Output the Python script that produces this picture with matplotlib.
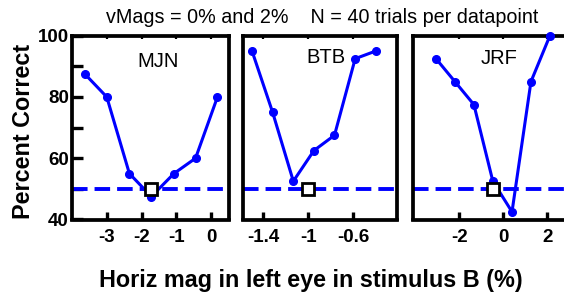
import matplotlib
matplotlib.use("Agg")
import matplotlib.pyplot as plt

plt.rcParams['font.family'] = ['Liberation Sans', 'DejaVu Sans']

# ---- data ----
subjects = ["MJN", "BTB", "JRF"]
x_mjn = [-3.63, -3.0, -2.35, -1.72, -1.07, -0.45, 0.18]
y_mjn = [87.5, 80.0, 55.0, 47.5, 55.0, 60.0, 80.0]
x_btb = [-1.50, -1.317, -1.133, -0.95, -0.767, -0.583, -0.40]
y_btb = [95.0, 75.0, 52.5, 62.5, 67.5, 92.5, 95.0]
x_jrf = [-3.05, -2.19, -1.33, -0.47, 0.40, 1.26, 2.12]
y_jrf = [92.5, 85.0, 77.5, 52.5, 42.5, 85.0, 100.0]
pse_x = [-1.72, -1.0, -0.45]
pse_y = [50.0, 50.0, 50.0]
chance = 50
xticks = [[-3, -2, -1, 0], [-1.4, -1.0, -0.6], [-2, 0, 2]]
xticklabels = [["-3", "-2", "-1", "0"], ["-1.4", "-1", "-0.6"], ["-2", "0", "2"]]
xlims = [(-3.99, 0.52), (-1.583, -0.214), (-4.08, 3.0)]
yticks_major = [40, 60, 80, 100]
yticks_all = [40, 50, 60, 70, 80, 90, 100]

xs = [x_mjn, x_btb, x_jrf]
ys = [y_mjn, y_btb, y_jrf]

W, H = 564, 293
fig = plt.figure(figsize=(W / 100, H / 100), dpi=100)

panels_px = [(72.3, 157.0), (242.7, 154.0), (413.3, 156.0)]
top_px, bot_px = 35.7, 219.5
name_pos = [(0.549, 0.859), (0.541, 0.881), (0.549, 0.877)]

blue = (0, 0, 1)
for i in range(3):
    l, w = panels_px[i]
    ax = fig.add_axes([l / W, (H - bot_px) / H, w / W, (bot_px - top_px) / H])
    ax.axhline(chance, color=blue, lw=2.8, dashes=(4.0, 1.8), zorder=2)
    ax.plot(xs[i], ys[i], '-o', color=blue, lw=2.2, ms=5.5, zorder=3, clip_on=False)
    ax.plot(pse_x[i], pse_y[i], 's', mfc='white', mec='black', mew=2.0, ms=8,
            zorder=4, clip_on=False)
    ax.set_xlim(*xlims[i])
    ax.set_ylim(40, 100)
    for s in ax.spines.values():
        s.set_linewidth(2.7)
    ax.set_xticks(xticks[i])
    ax.set_xticklabels(xticklabels[i], fontsize=13.5, fontweight='bold')
    ax.tick_params(axis='x', direction='in', length=5.5, width=2.4, pad=7, bottom=True, top=False)
    sec = ax.secondary_xaxis('top')
    sec.set_xticks(xticks[i])
    sec.set_xticklabels([])
    sec.tick_params(direction='in', length=2, width=1.6)
    sec.spines['top'].set_visible(False)
    if i == 0:
        ax.set_yticks(yticks_all)
        ax.set_yticklabels([str(v) if v in yticks_major else "" for v in yticks_all],
                           fontsize=13.5, fontweight='bold')
        ax.tick_params(axis='y', direction='in', length=8, width=2.4, pad=2.5)
    else:
        ax.set_yticks([])
    ax.text(name_pos[i][0], name_pos[i][1], subjects[i], transform=ax.transAxes,
            ha='center', va='center', fontsize=14.5)

fig.text(322.5 / W, 1 - 17.5 / H, "vMags = 0% and 2%    N = 40 trials per datapoint",
         ha='center', va='center', fontsize=14.2)
fig.text(310.5 / W, 1 - 281 / H, "Horiz mag in left eye in stimulus B (%)",
         ha='center', va='center', fontsize=16.8, fontweight='bold')
fig.text(23 / W, 1 - 131.5 / H, "Percent Correct", rotation=90,
         ha='center', va='center', fontsize=16.8, fontweight='bold')

fig.savefig("out.png", dpi=100)
